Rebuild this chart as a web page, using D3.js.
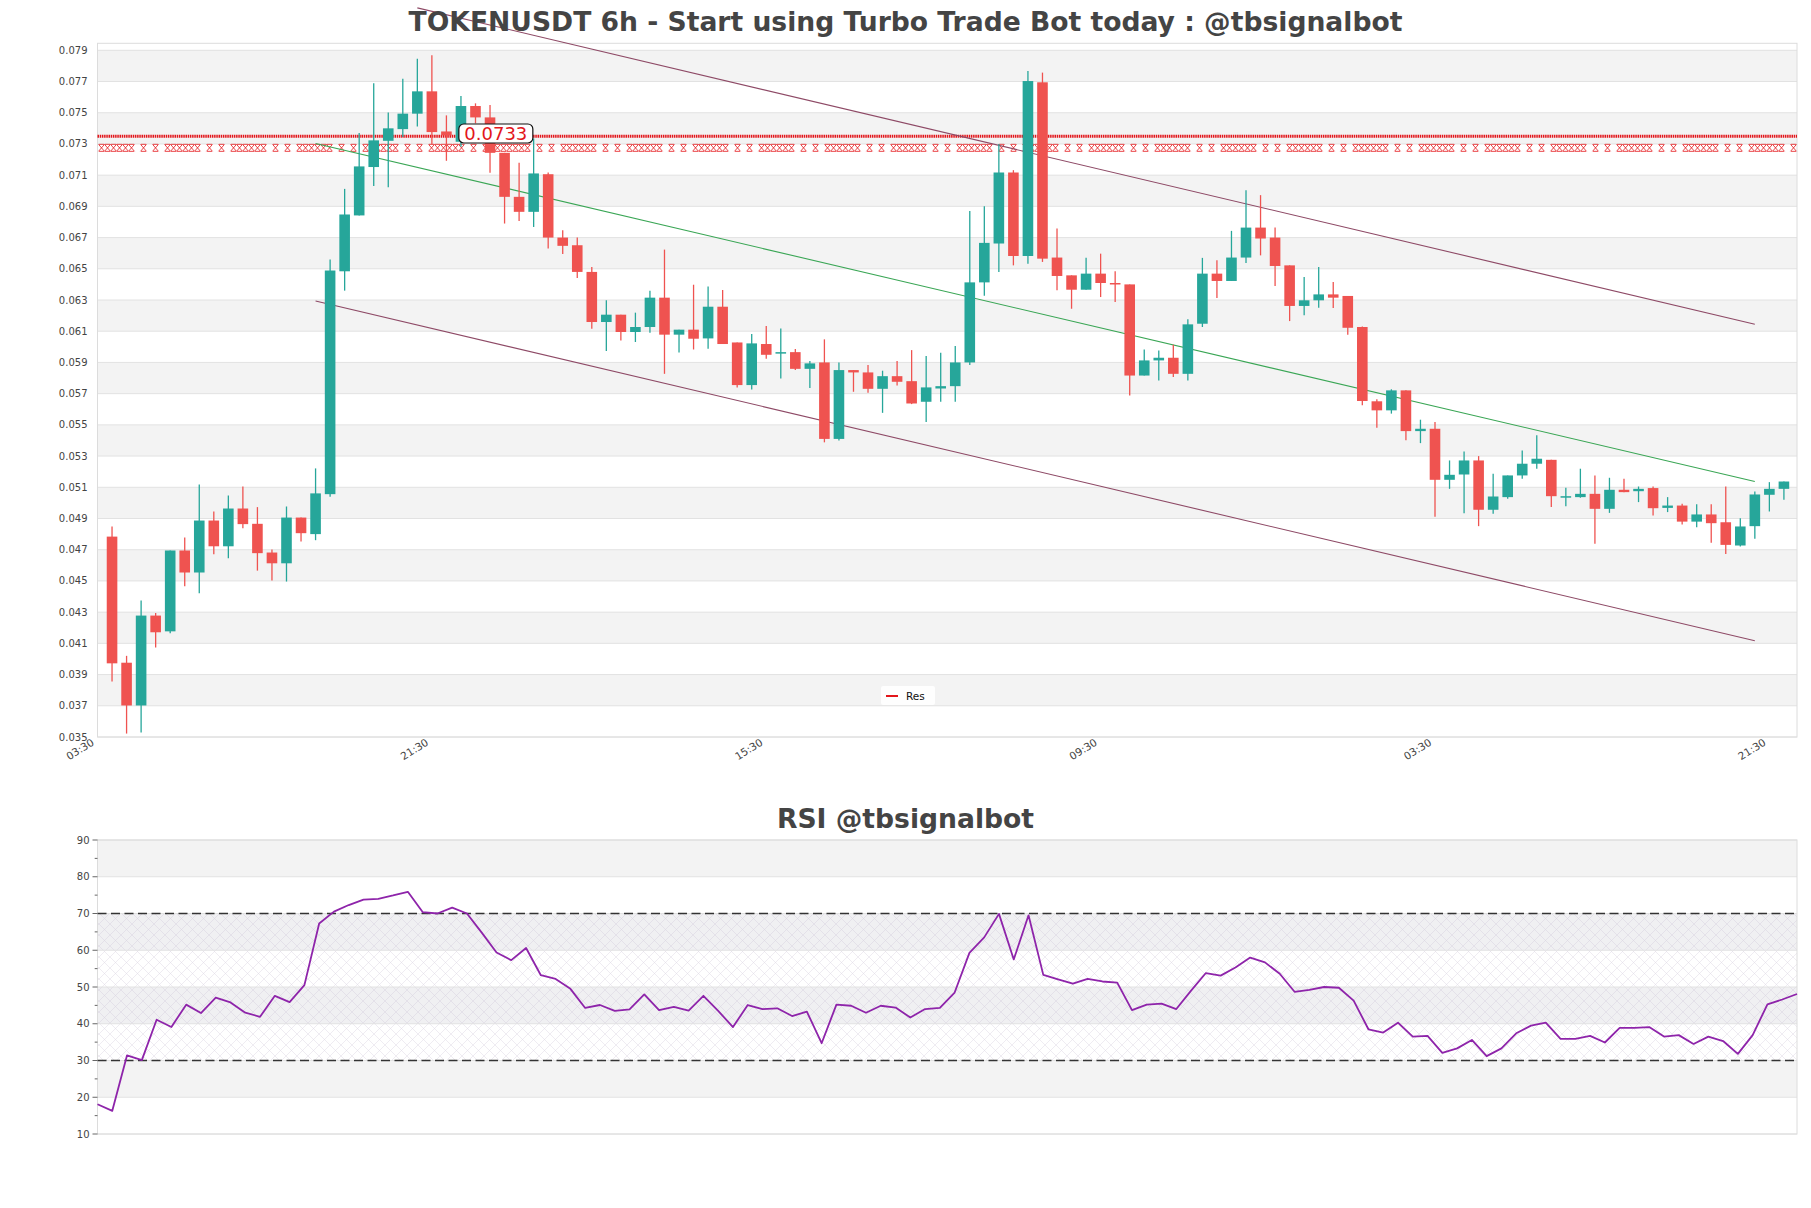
<!DOCTYPE html>
<html><head><meta charset="utf-8">
<script src="https://cdn.jsdelivr.net/npm/d3@7"></script>
<style>body{margin:0;background:#fff} svg{display:block;font-family:"DejaVu Sans",sans-serif}</style>
</head><body><svg id="c" width="1811" height="1208"></svg>
<script>
// ---- data ----
const opens  = [0.04784,0.03976,0.03702,0.04278,0.04177,0.04695,0.04554,0.04887,0.04722,0.04964,0.04866,0.04682,0.04613,0.04906,0.04800,0.05056,0.06484,0.06842,0.07152,0.07320,0.07395,0.07494,0.07637,0.07380,0.07314,0.07543,0.07470,0.07243,0.06961,0.06865,0.07106,0.06700,0.06651,0.06480,0.06159,0.06206,0.06095,0.06127,0.06315,0.06078,0.06110,0.06054,0.06257,0.06028,0.05755,0.06018,0.05958,0.05966,0.05859,0.05900,0.05410,0.05851,0.05836,0.05731,0.05812,0.05780,0.05648,0.05733,0.05748,0.05900,0.06413,0.06662,0.07117,0.06582,0.07695,0.06572,0.06458,0.06366,0.06469,0.06409,0.06400,0.05816,0.05913,0.05930,0.05827,0.06148,0.06469,0.06422,0.06572,0.06764,0.06700,0.06522,0.06262,0.06298,0.06336,0.06326,0.06127,0.05651,0.05593,0.05721,0.05460,0.05475,0.05148,0.05182,0.05272,0.04956,0.05037,0.05176,0.05251,0.05276,0.05037,0.05037,0.05058,0.04962,0.05084,0.05075,0.05095,0.04968,0.04983,0.04880,0.04926,0.04876,0.04727,0.04851,0.05052,0.05090];
const highs  = [0.04849,0.04020,0.04374,0.04295,0.04695,0.04778,0.05118,0.04945,0.05048,0.05105,0.04973,0.04701,0.04977,0.04906,0.05221,0.06560,0.07012,0.07370,0.07689,0.07501,0.07718,0.07846,0.07868,0.07483,0.07607,0.07560,0.07549,0.07243,0.07179,0.07335,0.07117,0.06747,0.06700,0.06512,0.06298,0.06206,0.06219,0.06360,0.06623,0.06110,0.06398,0.06386,0.06364,0.06028,0.06082,0.06133,0.06118,0.05986,0.05909,0.06048,0.05900,0.05851,0.05883,0.05847,0.05909,0.05979,0.05941,0.05962,0.06005,0.06871,0.06900,0.07300,0.07132,0.07767,0.07757,0.06758,0.06458,0.06570,0.06597,0.06484,0.06400,0.05983,0.05977,0.06013,0.06176,0.06570,0.06555,0.06743,0.07004,0.06972,0.06764,0.06522,0.06448,0.06512,0.06416,0.06326,0.06130,0.05664,0.05728,0.05721,0.05533,0.05518,0.05272,0.05330,0.05300,0.05187,0.05176,0.05336,0.05433,0.05276,0.05097,0.05219,0.05176,0.05161,0.05155,0.05105,0.05105,0.05037,0.04994,0.04991,0.04991,0.05105,0.04902,0.05073,0.05133,0.05137];
const lows   = [0.03856,0.03522,0.03529,0.04074,0.04164,0.04466,0.04421,0.04671,0.04645,0.04838,0.04566,0.04502,0.04496,0.04753,0.04761,0.05040,0.06360,0.06842,0.07030,0.07023,0.07344,0.07412,0.07297,0.07192,0.07282,0.07432,0.07115,0.06790,0.06807,0.06768,0.06630,0.06595,0.06441,0.06116,0.05973,0.06041,0.06031,0.06090,0.05827,0.05964,0.05983,0.05987,0.06018,0.05740,0.05727,0.05924,0.05797,0.05851,0.05737,0.05388,0.05400,0.05712,0.05705,0.05577,0.05752,0.05633,0.05519,0.05648,0.05648,0.05883,0.06328,0.06480,0.06522,0.06533,0.06544,0.06362,0.06244,0.06366,0.06319,0.06287,0.05688,0.05816,0.05784,0.05806,0.05784,0.06127,0.06313,0.06422,0.06537,0.06586,0.06390,0.06165,0.06202,0.06251,0.06248,0.06078,0.05625,0.05482,0.05572,0.05401,0.05383,0.04911,0.05090,0.04933,0.04851,0.04930,0.05026,0.05155,0.05219,0.04973,0.04979,0.05033,0.04738,0.04936,0.05069,0.05005,0.04919,0.04941,0.04861,0.04844,0.04744,0.04673,0.04720,0.04770,0.04945,0.05020];
const closes = [0.03972,0.03702,0.04278,0.04171,0.04695,0.04554,0.04887,0.04722,0.04964,0.04864,0.04678,0.04613,0.04906,0.04806,0.05061,0.06489,0.06848,0.07156,0.07323,0.07400,0.07494,0.07637,0.07376,0.07355,0.07543,0.07470,0.07243,0.06961,0.06865,0.07111,0.06700,0.06647,0.06480,0.06159,0.06206,0.06095,0.06127,0.06315,0.06078,0.06110,0.06052,0.06257,0.06018,0.05755,0.06022,0.05949,0.05966,0.05859,0.05894,0.05410,0.05851,0.05836,0.05731,0.05812,0.05776,0.05637,0.05740,0.05748,0.05900,0.06413,0.06666,0.07117,0.06582,0.07703,0.06565,0.06454,0.06366,0.06469,0.06409,0.06400,0.05816,0.05913,0.05930,0.05827,0.06144,0.06469,0.06422,0.06572,0.06764,0.06694,0.06518,0.06262,0.06298,0.06336,0.06315,0.06122,0.05653,0.05593,0.05721,0.05460,0.05475,0.05148,0.05180,0.05272,0.04956,0.05041,0.05176,0.05251,0.05283,0.05043,0.05043,0.05058,0.04962,0.05084,0.05069,0.05090,0.04966,0.04983,0.04880,0.04926,0.04870,0.04731,0.04849,0.05054,0.05090,0.05137];
const rsiValues = [18.1,16.3,31.4,30.1,41.1,39.1,45.2,42.9,47.1,45.8,43.0,41.9,47.6,45.9,50.5,67.3,70.5,72.3,73.8,74.0,74.9,75.9,70.4,70.0,71.6,70.0,64.8,59.4,57.3,60.6,53.2,52.2,49.5,44.3,45.1,43.5,43.9,48.0,43.7,44.6,43.6,47.6,43.5,39.1,45.1,44.0,44.2,42.1,43.3,34.7,45.2,44.9,43.0,44.9,44.4,41.7,44.0,44.3,48.5,59.3,63.5,69.9,57.5,69.5,53.3,52.1,50.9,52.2,51.5,51.2,43.7,45.2,45.5,44.0,49.0,53.8,53.1,55.3,58.0,56.7,53.6,48.7,49.2,50.0,49.8,46.3,38.5,37.6,40.3,36.5,36.7,32.1,33.3,35.6,31.2,33.3,37.4,39.5,40.3,35.9,35.9,36.7,34.9,38.9,38.9,39.1,36.5,36.9,34.5,36.5,35.3,31.8,36.9,45.3,46.6,48.1];
const timeTickIndex  = [-1, 22, 45, 68, 91, 114];
const timeTickLabels = ["03:30","21:30","15:30","09:30","03:30","21:30"];
const priceTicks = [0.035,0.037,0.039,0.041,0.043,0.045,0.047,0.049,0.051,0.053,0.055,0.057,0.059,0.061,0.063,0.065,0.067,0.069,0.071,0.073,0.075,0.077,0.079];
const rsiTicks = [10,20,30,40,50,60,70,80,90];
const rsiMinorTicks = [15,25,35,45,55,65,75,85];
const resistanceLevel = 0.0735;
const resistanceLevel2 = 0.07275;
const resistanceLabel = "0.0733";
const channelUpper = [[21,0.08172],[113,0.06145]];
const channelLower = [[14,0.06294],[113,0.04117]];
const channelMid   = [[14,0.07303],[113,0.05137]];
const mainTitle = "TOKENUSDT 6h - Start using Turbo Trade Bot today : @tbsignalbot";
const rsiTitle = "RSI @tbsignalbot";

// ---- layout ----
const svg = d3.select("#c");
const L = 97.5, R = 1797;
const mainTop = 43.3, mainBot = 737;
const rsiTop = 840, rsiBot = 1134;
const UP = "#26a69a", DOWN = "#ef5350", RED = "#e3161b";
const BAND = "#f3f3f3", GRID = "#e2e2e2", FRAME = "#dcdcdc";

const x = d3.scaleLinear().domain([-1, 115.9]).range([L, R]);
const y = d3.scaleLinear().domain([0.035, 0.079]).range([mainBot, 50.3]);
const xr = d3.scaleLinear().domain([0, rsiValues.length - 1]).range([L, R]);
const yr = d3.scaleLinear().domain([10, 90]).range([rsiBot, rsiTop]);

// defs
const defs = svg.append("defs");
const pat = defs.append("pattern").attr("id","hatch").attr("patternUnits","userSpaceOnUse")
  .attr("width",11).attr("height",11);
pat.append("path").attr("d","M0,0L11,11M11,0L0,11")
  .attr("stroke","#c9bfd3").attr("stroke-width",0.5).attr("opacity",0.6);

// ---- main panel ----
const gm = svg.append("g");
priceTicks.forEach(t => {
  const k = Math.round((t - 0.037) / 0.002);
  if (k >= 0 && k % 2 === 0 && t < 0.079) {
    gm.append("rect").attr("x", L).attr("width", R - L)
      .attr("y", y(t + 0.002)).attr("height", y(t) - y(t + 0.002)).attr("fill", BAND);
  }
});
gm.selectAll(".grid").data(priceTicks).enter().append("line")
  .attr("x1", L).attr("x2", R).attr("y1", d => y(d)).attr("y2", d => y(d))
  .attr("stroke", GRID).attr("stroke-width", 1);
gm.append("rect").attr("x", L).attr("y", mainTop).attr("width", R - L).attr("height", mainBot - mainTop)
  .attr("fill", "none").attr("stroke", FRAME).attr("stroke-width", 1);

// y labels
gm.selectAll(".yl").data(priceTicks).enter().append("text")
  .attr("x", L - 10).attr("y", d => y(d)).attr("dy", "0.35em")
  .attr("text-anchor", "end").attr("font-size", 10).attr("fill", "#444")
  .text(d => d3.format(".3f")(d));

// x labels
gm.selectAll(".xl").data(timeTickIndex).enter().append("text")
  .attr("transform", (d) => `translate(${x(d) - 6},${mainBot + 2}) rotate(-32)`)
  .attr("dy", "0.6em").attr("text-anchor", "end").attr("font-size", 10.5).attr("fill", "#444")
  .text((d, i) => timeTickLabels[i]);

// resistance lines
const res2Y = y(resistanceLevel2);
const xPattern = [0,6,12,18,24,30,42,54];
const period = 66;
for (let p = L + 4; p < R; p += period) {
  xPattern.forEach(o => {
    const cx = p + o;
    if (cx > R - 3) return;
    gm.append("path").attr("d", `M${cx-3},${res2Y-3.5}L${cx+3},${res2Y+3.5}M${cx+3},${res2Y-3.5}L${cx-3},${res2Y+3.5}M${cx-2.5},${res2Y-3.5}H${cx+2.5}M${cx-2.5},${res2Y+3.5}H${cx+2.5}`)
      .attr("stroke", RED).attr("stroke-width", 0.8).attr("fill", "none");
  });
}
const resY = y(resistanceLevel);
gm.append("line").attr("x1", L).attr("x2", R).attr("y1", resY).attr("y2", resY)
  .attr("stroke", RED).attr("stroke-width", 3).attr("stroke-dasharray", "1.5,0.7");

// trend lines
const tl = (pts, color) => gm.append("line")
  .attr("x1", x(pts[0][0])).attr("y1", y(pts[0][1])).attr("x2", x(pts[1][0])).attr("y2", y(pts[1][1]))
  .attr("stroke", color).attr("stroke-width", 1.1);
tl(channelUpper, "#8e4a66");
tl(channelLower, "#8e4a66");
tl(channelMid, "#3aa655");

// candles
const n = opens.length;
const idx = d3.range(n);
const bw = 10.6;
const gc = gm.append("g");
gc.selectAll(".wick").data(idx).enter().append("line")
  .attr("x1", i => x(i)).attr("x2", i => x(i))
  .attr("y1", i => y(highs[i])).attr("y2", i => y(lows[i]))
  .attr("stroke", i => closes[i] >= opens[i] ? UP : DOWN).attr("stroke-width", 1.3);
gc.selectAll(".body").data(idx).enter().append("rect")
  .attr("x", i => x(i) - bw / 2).attr("width", bw)
  .attr("y", i => y(Math.max(opens[i], closes[i])))
  .attr("height", i => Math.max(1.5, Math.abs(y(opens[i]) - y(closes[i]))))
  .attr("fill", i => closes[i] >= opens[i] ? UP : DOWN);

// resistance label
const lx = x(26.4), ly = y(0.07367);
gm.append("rect").attr("x", lx - 37).attr("y", ly - 9.5).attr("width", 74).attr("height", 19)
  .attr("rx", 5).attr("fill", "#fff").attr("stroke", "#111").attr("stroke-width", 1.2);
gm.append("text").attr("x", lx).attr("y", ly).attr("dy", "0.36em").attr("text-anchor", "middle")
  .attr("font-size", 18).attr("fill", RED).text(resistanceLabel);

// legend
const lg = gm.append("g");
lg.append("rect").attr("x", 881).attr("y", 686).attr("width", 54).attr("height", 19).attr("rx", 2)
  .attr("fill", "#fff").attr("opacity", 0.9);
lg.append("line").attr("x1", 886).attr("x2", 898).attr("y1", 696).attr("y2", 696)
  .attr("stroke", RED).attr("stroke-width", 2);
lg.append("text").attr("x", 906).attr("y", 696).attr("dy", "0.35em").attr("font-size", 10.5).attr("fill", "#111").text("Res");

// title
svg.append("text").attr("x", 905.5).attr("y", 31).attr("text-anchor", "middle")
  .attr("font-size", 26.6).attr("font-weight", "bold").attr("fill", "#444").text(mainTitle);

// ---- RSI panel ----
const gr = svg.append("g");
[20, 40, 60, 80].forEach(v => {
  gr.append("rect").attr("x", L).attr("width", R - L).attr("y", yr(v + 10)).attr("height", yr(v) - yr(v + 10))
    .attr("fill", (v === 40 || v === 60) ? "#f0f0f2" : BAND);
});
gr.append("rect").attr("x", L).attr("width", R - L).attr("y", yr(70)).attr("height", yr(30) - yr(70))
  .attr("fill", "url(#hatch)");
gr.selectAll(".rg").data(rsiTicks).enter().append("line")
  .attr("x1", L).attr("x2", R).attr("y1", d => yr(d)).attr("y2", d => yr(d))
  .attr("stroke", GRID).attr("stroke-width", 1);
gr.append("rect").attr("x", L).attr("y", rsiTop).attr("width", R - L).attr("height", rsiBot - rsiTop)
  .attr("fill", "none").attr("stroke", FRAME).attr("stroke-width", 1);
[30, 70].forEach(v => gr.append("line").attr("x1", L).attr("x2", R).attr("y1", yr(v)).attr("y2", yr(v))
  .attr("stroke", "#333").attr("stroke-width", 1.3).attr("stroke-dasharray", "9,4.5"));
gr.selectAll(".rt").data(rsiTicks).enter().append("line")
  .attr("x1", L - 5).attr("x2", L).attr("y1", d => yr(d)).attr("y2", d => yr(d)).attr("stroke", "#666");
gr.selectAll(".rmt").data(rsiMinorTicks).enter().append("line")
  .attr("x1", L - 2.8).attr("x2", L).attr("y1", d => yr(d)).attr("y2", d => yr(d)).attr("stroke", "#666");
gr.selectAll(".rl").data(rsiTicks).enter().append("text")
  .attr("x", L - 8).attr("y", d => yr(d)).attr("dy", "0.35em").attr("text-anchor", "end")
  .attr("font-size", 10).attr("fill", "#444").text(d => d);
gr.append("path").datum(rsiValues)
  .attr("d", d3.line().x((d, i) => xr(i)).y(d => yr(d)))
  .attr("fill", "none").attr("stroke", "#8e24aa").attr("stroke-width", 1.8).attr("stroke-linejoin", "round");
svg.append("text").attr("x", 905.5).attr("y", 828).attr("text-anchor", "middle")
  .attr("font-size", 26.6).attr("font-weight", "bold").attr("fill", "#444").text(rsiTitle);
</script></body></html>
